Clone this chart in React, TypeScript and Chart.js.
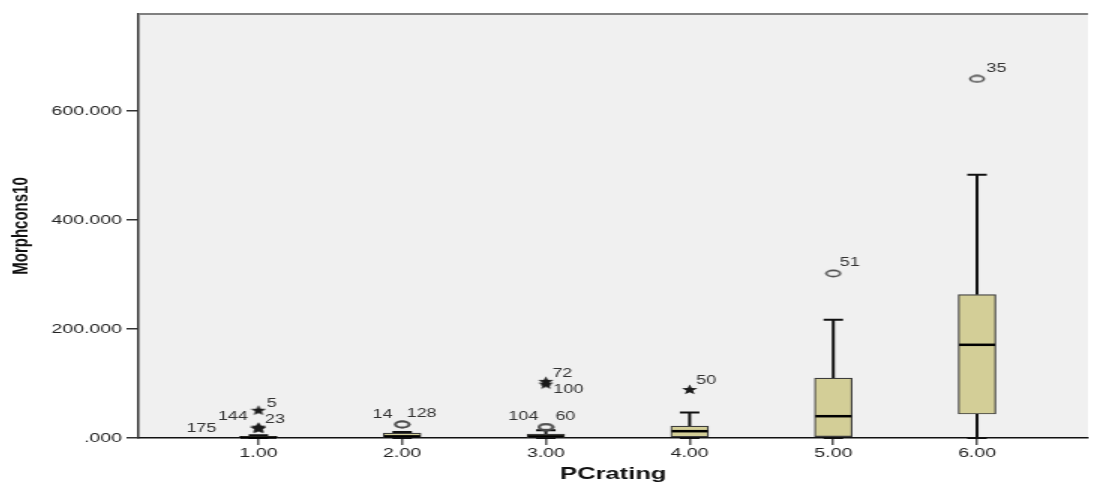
import { useEffect, useRef } from 'react';
import { Chart, registerables } from 'chart.js';

Chart.register(...registerables);

// PCrating groups
const categories = [1, 2, 3, 4, 5, 6];

// Box statistics of Morphcons10 per group
const whiskerLow = [0, 0, 0, 0, 0, 0];
const q1 = [0, 1, 0.5, 2, 2.5, 44];
const median = [1, 3, 3, 12.5, 40, 171];
const q3 = [3, 9, 7, 22, 110, 263];
const whiskerHigh = [5, 11, 14, 47, 217, 483];

// Outlying cases (circle = outlier, star = extreme)
const outlierCategory = [1, 1, 1, 1, 2, 2, 3, 3, 3, 3, 4, 5, 6];
const outlierValue = [18, 20, 18, 51, 25, 25, 20, 20, 104, 99, 89, 302, 659];
const outlierCase = ['175', '144', '23', '5', '14', '128', '104', '60', '72', '100', '50', '51', '35'];
const outlierExtreme = [true, true, true, true, false, false, false, false, true, true, true, false, false];

// Case-label placement relative to its marker (px)
const caseLabelDx = [-38, -17, 11, 9, -13, 13, -15, 13, 11, 15, 11, 11, 13];
const caseLabelDy = [0, -10, -9, -7, -10, -11, -10, -10, -8, 6, -9, -11, -10];

// Axis ticks
const yTickValues = [0, 200, 400, 600];
const xTickValues = categories;

const Y_MIN = 0;
const Y_MAX = 778;
const X_MIN = 0.1655;
const X_MAX = 6.772;

const FONT = '"Liberation Sans", Arial, sans-serif';
const BOX_WIDTH = 25;
const STRETCH = 1.5;
const CANVAS_W = 726;
const CANVAS_H = 479;

function makeStar(): HTMLCanvasElement {
  const c = document.createElement('canvas');
  c.width = 11;
  c.height = 11;
  const g = c.getContext('2d')!;
  g.fillStyle = '#1a1a1a';
  g.beginPath();
  for (let k = 0; k < 10; k++) {
    const r = k % 2 === 0 ? 5.5 : 2.3;
    const a = -Math.PI / 2 + (k * Math.PI) / 5;
    const px = 5.5 + r * Math.cos(a);
    const py = 5.9 + r * Math.sin(a);
    if (k === 0) g.moveTo(px, py);
    else g.lineTo(px, py);
  }
  g.closePath();
  g.fill();
  return c;
}

function makeRing(): HTMLCanvasElement {
  const c = document.createElement('canvas');
  c.width = 12;
  c.height = 9;
  const g = c.getContext('2d')!;
  g.strokeStyle = '#4d4d4d';
  g.lineWidth = 1.6;
  g.beginPath();
  g.ellipse(6, 4.5, 4.6, 3.1, 0, 0, Math.PI * 2);
  g.stroke();
  return c;
}

const boxPlotPlugin = {
  id: 'boxPlotParts',
  beforeDraw(chart: any) {
    const { ctx, chartArea: a } = chart;
    ctx.save();
    ctx.fillStyle = '#f0f0f0';
    ctx.fillRect(a.left, a.top, a.right - a.left, a.bottom - a.top);
    ctx.restore();
  },
  beforeDatasetsDraw(chart: any) {
    const { ctx } = chart;
    const xs = chart.scales.x;
    const ys = chart.scales.y;
    const cap = BOX_WIDTH * 0.26;
    ctx.save();
    ctx.strokeStyle = '#111';
    categories.forEach((c, i) => {
      const x = xs.getPixelForValue(c);
      const yHi = ys.getPixelForValue(whiskerHigh[i]);
      const yLo = ys.getPixelForValue(whiskerLow[i]);
      ctx.lineWidth = 2;
      ctx.beginPath();
      ctx.moveTo(x, ys.getPixelForValue(q3[i]));
      ctx.lineTo(x, yHi);
      ctx.moveTo(x, ys.getPixelForValue(q1[i]));
      ctx.lineTo(x, yLo);
      ctx.stroke();
      ctx.beginPath();
      ctx.moveTo(x - cap, yHi);
      ctx.lineTo(x + cap, yHi);
      ctx.moveTo(x - cap, yLo);
      ctx.lineTo(x + cap, yLo);
      ctx.stroke();
    });
    ctx.restore();
  },
  afterDatasetsDraw(chart: any) {
    const { ctx, chartArea: a } = chart;
    const xs = chart.scales.x;
    const ys = chart.scales.y;
    ctx.save();
    // medians
    ctx.strokeStyle = '#000';
    ctx.lineWidth = 2.5;
    categories.forEach((c, i) => {
      const x = xs.getPixelForValue(c);
      const y = ys.getPixelForValue(median[i]);
      ctx.beginPath();
      ctx.moveTo(x - BOX_WIDTH / 2 + 0.5, y);
      ctx.lineTo(x + BOX_WIDTH / 2 - 0.5, y);
      ctx.stroke();
    });
    // case labels
    ctx.fillStyle = '#333';
    ctx.font = `12px ${FONT}`;
    ctx.textAlign = 'center';
    ctx.textBaseline = 'middle';
    outlierCase.forEach((label, i) => {
      const x = xs.getPixelForValue(outlierCategory[i]);
      const y = ys.getPixelForValue(outlierValue[i]);
      ctx.fillText(label, x + caseLabelDx[i], y + caseLabelDy[i]);
    });
    // frame top edge
    ctx.strokeStyle = '#808080';
    ctx.lineWidth = 2;
    ctx.beginPath();
    ctx.moveTo(a.left, a.top);
    ctx.lineTo(a.right, a.top);
    ctx.stroke();
    ctx.restore();
  },
};

export default function App() {
  const canvasRef = useRef<HTMLCanvasElement | null>(null);

  useEffect(() => {
    if (!canvasRef.current) return;
    const star = makeStar();
    const ring = makeRing();
    const idx = outlierValue.map((_, i) => i);
    const chart = new Chart(canvasRef.current, {
      type: 'bar',
      data: {
        datasets: [
          {
            type: 'bar',
            data: categories.map((c, i) => ({ x: c, y: [q1[i], q3[i]] })) as any,
            backgroundColor: '#d3ce97',
            borderColor: '#3c3c3c',
            borderWidth: 1.2,
            borderSkipped: false,
            barThickness: BOX_WIDTH,
            order: 2,
          },
          {
            type: 'scatter',
            data: idx.filter((i) => !outlierExtreme[i]).map((i) => ({ x: outlierCategory[i], y: outlierValue[i] })),
            pointStyle: ring as any,
            pointRadius: 4,
            order: 1,
          },
          {
            type: 'scatter',
            data: idx.filter((i) => outlierExtreme[i]).map((i) => ({ x: outlierCategory[i], y: outlierValue[i] })),
            pointStyle: star as any,
            pointRadius: 5,
            order: 0,
          },
        ] as any,
      },
      options: {
        animation: false,
        responsive: true,
        maintainAspectRatio: false,
        devicePixelRatio: 1,
        layout: { padding: { top: 1, left: 0, right: 0, bottom: 0 } },
        plugins: { legend: { display: false }, tooltip: { enabled: false } },
        scales: {
          x: {
            type: 'linear',
            min: X_MIN,
            max: X_MAX,
            offset: false,
            afterBuildTicks(s: any) {
              s.ticks = xTickValues.map((v) => ({ value: v }));
            },
            afterFit(s: any) {
              s.height = 49;
              s.paddingLeft = 0;
              s.paddingRight = 0;
            },
            grid: { drawOnChartArea: false, drawTicks: true, tickLength: 7, color: '#555', lineWidth: 1.5, offset: false },
            border: { display: true, color: '#111', width: 1.5 },
            ticks: {
              autoSkip: false,
              maxRotation: 0,
              padding: 1,
              color: '#222',
              font: { family: FONT, size: 13 },
              callback: (v: any) => Number(v).toFixed(2),
            },
            title: {
              display: true,
              text: 'PCrating',
              color: '#111',
              font: { family: FONT, size: 17, weight: 'bold' },
              padding: { top: 0, bottom: 2 },
            },
          },
          y: {
            type: 'linear',
            min: Y_MIN,
            max: Y_MAX,
            afterBuildTicks(s: any) {
              s.ticks = yTickValues.map((v) => ({ value: v }));
            },
            afterFit(s: any) {
              s.width = 87;
              s.paddingTop = 0;
              s.paddingBottom = 0;
            },
            grid: { drawOnChartArea: false, drawTicks: true, tickLength: 8, color: '#333', lineWidth: 1.5 },
            border: { display: true, color: '#333', width: 1.5 },
            ticks: {
              autoSkip: false,
              padding: 3,
              color: '#222',
              font: { family: FONT, size: 13 },
              callback: (v: any) => (Number(v) === 0 ? '.000' : Number(v).toFixed(3)),
            },
            title: {
              display: true,
              text: 'Morphcons10',
              color: '#111',
              font: { family: FONT, size: 15, weight: 'bold' },
              padding: { top: 0, bottom: 0 },
            },
          },
        },
      } as any,
      plugins: [boxPlotPlugin],
    });
    return () => chart.destroy();
  }, []);

  return (
    <div
      style={{
        position: 'relative',
        width: CANVAS_W,
        height: CANVAS_H,
        transform: `scaleX(${STRETCH})`,
        transformOrigin: '0 0',
      }}
    >
      <canvas ref={canvasRef} />
    </div>
  );
}
